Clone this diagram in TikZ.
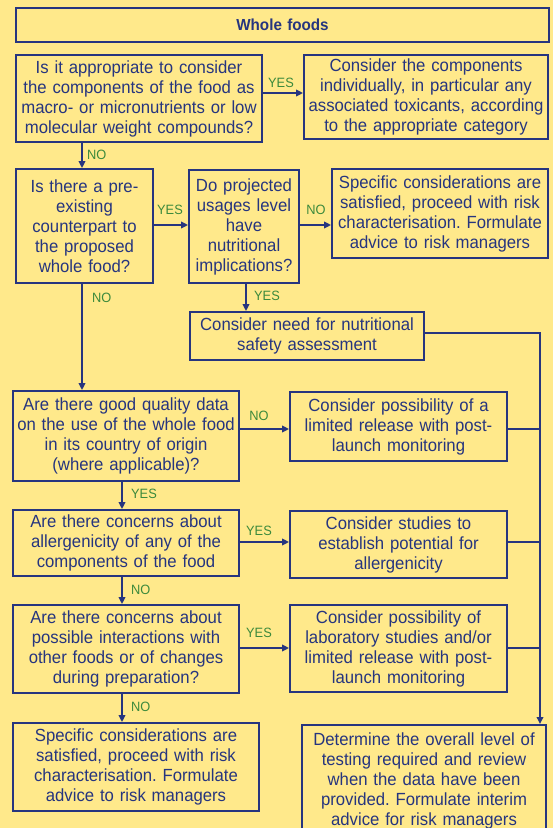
\documentclass[tikz,border=0pt]{standalone}
\usepackage{fontspec}
\setmainfont{Liberation Sans}[FakeStretch=0.95]
\usetikzlibrary{arrows.meta,calc}
\definecolor{bgy}{HTML}{FFE98B}
\definecolor{navy}{HTML}{26357F}
\definecolor{lblg}{HTML}{3C8A3C}
\tikzset{
  box/.style={draw=navy, line width=1.8pt, text=navy, align=center, inner sep=1pt,
    font=\fontsize{17.6}{20}\selectfont},
  arr/.style={draw=navy, line width=2.4pt, -{Triangle[length=7pt,width=6.5pt]}},
  ln/.style={draw=navy, line width=2.4pt},
  lbl/.style={text=lblg, font=\fontsize{13.5}{16}\selectfont, inner sep=0pt}
}
\begin{document}
\frenchspacing
\begin{tikzpicture}[x=1pt,y=-1pt]
\fill[bgy] (0,0) rectangle (553,828);
\useasboundingbox (0,0) rectangle (553,828);
\clip (0,0) rectangle (553,828);
% boxes
\node[box, minimum width=533pt, minimum height=34pt, text width=528pt, font=\bfseries\fontsize{16}{18}\selectfont] (title) at (282.5,25) {Whole foods};
\node[box, minimum width=246pt, minimum height=87pt, text width=244pt] (b1) at (139,98.5)
  {Is it appropriate to consider\\the components of the food as\\macro- or micronutrients or low\\molecular weight compounds?};
\node[box, minimum width=244pt, minimum height=84pt, text width=242pt] (b2) at (426,97)
  {Consider the components\\individually, in particular any\\associated toxicants, according\\to the appropriate category};
\node[box, minimum width=137pt, minimum height=114pt, text width=135pt] (b3) at (84.5,226)
  {Is there a pre-\\existing\\counterpart to\\the proposed\\whole food?};
\node[box, minimum width=110pt, minimum height=113pt, text width=108pt] (b4) at (244,226.5)
  {Do projected\\usages level\\have\\nutritional\\implications?};
\node[box, minimum width=216pt, minimum height=89pt, text width=214pt] (b5) at (440,213.5)
  {Specific considerations are\\satisfied, proceed with risk\\characterisation. Formulate\\advice to risk managers};
\node[box, minimum width=234pt, minimum height=48pt, text width=232pt] (b6) at (307,336)
  {Consider need for nutritional\\safety assessment};
\node[box, minimum width=226pt, minimum height=90pt, text width=224pt] (b7) at (126,436)
  {Are there good quality data\\on the use of the whole food\\in its country of origin\\(where applicable)?};
\node[box, minimum width=217pt, minimum height=69pt, text width=215pt] (b8) at (398.5,426.5)
  {Consider possibility of a\\limited release with post-\\launch monitoring};
\node[box, minimum width=226pt, minimum height=66pt, text width=224pt] (b9) at (126,543)
  {Are there concerns about\\allergenicity of any of the\\components of the food};
\node[box, minimum width=217pt, minimum height=67pt, text width=215pt] (b10) at (398.5,544.5)
  {Consider studies to\\establish potential for\\allergenicity};
\node[box, minimum width=226pt, minimum height=88pt, text width=224pt] (b11) at (126,649)
  {Are there concerns about\\possible interactions with\\other foods or of changes\\during preparation?};
\node[box, minimum width=217pt, minimum height=87pt, text width=215pt] (b12) at (398.5,648.5)
  {Consider possibility of\\laboratory studies and/or\\limited release with post-\\launch monitoring};
\node[box, minimum width=246pt, minimum height=88pt, text width=244pt] (b13) at (136,767)
  {Specific considerations are\\satisfied, proceed with risk\\characterisation. Formulate\\advice to risk managers};
\node[box, minimum width=244pt, minimum height=112pt, text width=242pt, anchor=north] (b14) at (424,724)
  {Determine the overall level of\\testing required and review\\when the data have been\\provided. Formulate interim\\advice for risk managers};
% connectors
\coordinate (y1) at (0,93);
\draw[arr] (b1.east |- y1) -- (b2.west |- y1);
\node[lbl] (l1) at (281,83) {YES};
\coordinate (x1) at (82,0);
\draw[arr] (x1 |- b1.south) -- (x1 |- b3.north);
\node[lbl, anchor=west] (l2) at (87,155) {NO};
\coordinate (y2) at (0,225);
\draw[arr] (b3.east |- y2) -- (b4.west |- y2);
\node[lbl] (l3) at (170,210) {YES};
\draw[arr] (b4.east |- y2) -- (b5.west |- y2);
\node[lbl] (l4) at (316,210) {NO};
\coordinate (x3) at (246,0);
\draw[arr] (x3 |- b4.south) -- (x3 |- b6.north);
\node[lbl] (l5) at (267,296) {YES};
\coordinate (r1) at (540,333);
\draw[arr] (b6.east |- r1) -- (r1) -- (r1 |- b14.north);
\draw[arr] (x1 |- b3.south) -- (x1 |- b7.north);
\node[lbl, anchor=west] (l6) at (92,298) {NO};
\coordinate (y3) at (0,429);
\draw[arr] (b7.east |- y3) -- (b8.west |- y3);
\node[lbl] (l7) at (259,416) {NO};
\draw[ln] (b8.east |- y3) -- (r1 |- y3);
\coordinate (x2) at (122,0);
\draw[arr] (x2 |- b7.south) -- (x2 |- b9.north);
\node[lbl] (l8) at (144,494) {YES};
\coordinate (y4) at (0,542);
\draw[arr] (b9.east |- y4) -- (b10.west |- y4);
\node[lbl] (l9) at (259,531) {YES};
\draw[ln] (b10.east |- y4) -- (r1 |- y4);
\draw[arr] (x2 |- b9.south) -- (x2 |- b11.north);
\node[lbl, anchor=west] (l10) at (131,590) {NO};
\coordinate (y5) at (0,648);
\draw[arr] (b11.east |- y5) -- (b12.west |- y5);
\node[lbl] (l11) at (259,633) {YES};
\draw[ln] (b12.east |- y5) -- (r1 |- y5);
\draw[arr] (x2 |- b11.south) -- (x2 |- b13.north);
\node[lbl, anchor=west] (l12) at (131,707) {NO};
\end{tikzpicture}
\end{document}
